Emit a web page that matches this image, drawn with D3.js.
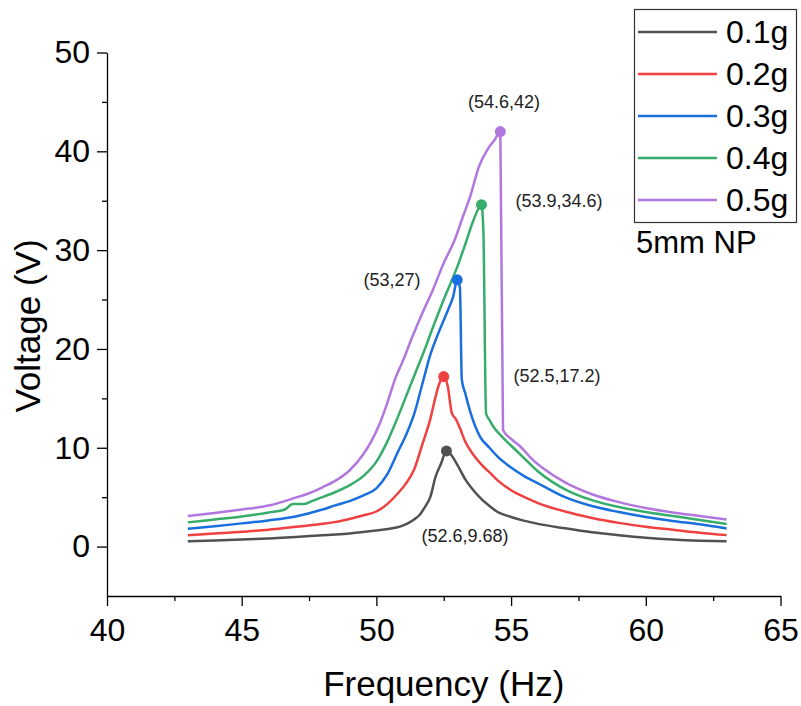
<!DOCTYPE html>
<html>
  <head>
    <script src="https://d3js.org/d3.v7.min.js"></script>
    <style>
      body { margin: 0; background: #fff; }
      text { font-family: "Liberation Sans", Arial, sans-serif; }
    </style>
  </head>
  <body>
    <div id="chart"></div>

    <script type="text/javascript">
      // series names + colours (Origin "bright" palette)
      var seriesNames = ["0.1g", "0.2g", "0.3g", "0.4g", "0.5g"];
      var seriesColors = ["#515151", "#F14040", "#1A6FDF", "#37AD6B", "#B177DE"];

      // frequency (Hz) / voltage (V)
      var freq01 = [43, 44, 45, 46, 47, 48, 48.5, 49, 49.5, 50, 50.5, 50.9, 51.2, 51.4, 51.6, 51.8, 52, 52.2, 52.4, 52.6, 52.8, 53, 53.3, 53.6, 53.9, 54.2, 54.5, 55, 55.5, 56, 57, 58, 59, 60, 61, 62, 63];
      var volt01 = [0.53, 0.62, 0.72, 0.83, 0.98, 1.15, 1.23, 1.33, 1.47, 1.63, 1.8, 2.05, 2.4, 2.75, 3.2, 4.0, 5.0, 7.1, 8.4, 9.68, 9.2, 8.3, 6.8, 5.7, 4.8, 4.1, 3.5, 3.0, 2.6, 2.3, 1.85, 1.45, 1.15, 0.9, 0.72, 0.6, 0.53];

      var freq02 = [43, 44, 45, 46, 47, 48, 48.5, 49, 49.5, 50, 50.4, 50.8, 51.1, 51.4, 51.7, 52, 52.2, 52.35, 52.5, 52.65, 52.8, 52.95, 53.1, 53.3, 53.6, 53.9, 54.2, 54.5, 55, 55.5, 56, 57, 58, 59, 60, 61, 62, 63];
      var volt02 = [1.16, 1.33, 1.5, 1.7, 2.0, 2.3, 2.5, 2.8, 3.15, 3.55, 4.3, 5.4, 6.4, 7.8, 10.3, 12.9, 15.2, 16.6, 17.2, 16.2, 13.5, 12.9, 12.0, 10.6, 9.3, 8.3, 7.5, 6.7, 5.7, 5.0, 4.4, 3.55, 2.9, 2.4, 2.0, 1.7, 1.4, 1.16];

      var freq03 = [43, 44, 45, 46, 47, 48, 48.5, 49, 49.5, 50, 50.4, 50.8, 51.1, 51.4, 51.7, 52, 52.3, 52.65, 52.85, 53, 53.1, 53.17, 53.3, 53.5, 53.85, 54.2, 54.5, 55, 55.5, 56, 57, 58, 59, 60, 61, 62, 63];
      var volt03 = [1.8, 2.05, 2.35, 2.65, 3.05, 3.75, 4.2, 4.6, 5.15, 5.9, 7.3, 9.6, 11.3, 13.4, 16.4, 19.4, 21.6, 23.9, 25.3, 27.0, 26.2, 16.9, 15.5, 13.5, 11.1, 10.0, 9.1, 8.0, 7.1, 6.4, 5.0, 4.1, 3.5, 3.0, 2.6, 2.25, 1.84];

      var freq04 = [43, 44, 45, 46, 46.6, 46.9, 47.3, 47.6, 48, 48.5, 49, 49.5, 50, 50.4, 50.75, 51.1, 51.45, 51.8, 52.1, 52.5, 53, 53.3, 53.6, 53.9, 53.97, 54.07, 54.2, 54.35, 54.6, 54.85, 55.2, 55.5, 56, 56.5, 57, 58, 59, 60, 61, 62, 63];
      var volt04 = [2.45, 2.75, 3.05, 3.45, 3.75, 4.3, 4.3, 4.6, 5.0, 5.55, 6.2, 7.1, 8.6, 10.6, 12.8, 15.2, 17.6, 20.0, 22.2, 25.0, 28.3, 30.6, 33.0, 34.6, 32.0, 13.5, 12.8, 12.1, 11.3, 10.6, 9.7, 8.9, 7.6, 6.6, 5.8, 4.7, 4.0, 3.5, 3.1, 2.7, 2.28];

      var freq05 = [43, 44, 45, 46, 47, 47.5, 48, 48.5, 49, 49.5, 49.8, 50.1, 50.4, 50.7, 51, 51.3, 51.7, 52.1, 52.5, 52.9, 53.2, 53.5, 53.8, 54.15, 54.4, 54.6, 54.7, 55, 55.35, 55.8, 56.2, 57, 58, 59, 60, 61, 62, 63];
      var volt05 = [3.09, 3.4, 3.75, 4.15, 4.95, 5.4, 6.0, 6.7, 7.7, 9.3, 10.6, 12.3, 14.5, 17.0, 18.9, 21.0, 23.6, 26.0, 28.7, 31.0, 33.3, 35.6, 38.4, 40.3, 41.2, 42.0, 11.8, 10.9, 10.1, 8.8, 7.9, 6.5, 5.3, 4.5, 3.9, 3.45, 3.1, 2.75];

      // peak points and their labels
      var peakFreq = [52.6, 52.5, 53, 53.9, 54.6];
      var peakVolt = [9.68, 17.2, 27, 34.6, 42];
      var peakLabels = ["(52.6,9.68)", "(52.5,17.2)", "(53,27)", "(53.9,34.6)", "(54.6,42)"];

      var xTicks = [40, 45, 50, 55, 60, 65];
      var xMinor = [42.5, 47.5, 52.5, 57.5, 62.5];
      var yTicks = [0, 10, 20, 30, 40, 50];
      var yMinor = [5, 15, 25, 35, 45];

      var width = 801,
          height = 706;

      var freqs = [freq01, freq02, freq03, freq04, freq05];
      var volts = [volt01, volt02, volt03, volt04, volt05];
      var series = seriesNames.map(function(name, i) {
        return {
          name: name,
          color: seriesColors[i],
          values: freqs[i].map(function(f, j) { return { f: f, v: volts[i][j] }; })
        };
      });

      var svg = d3.select("#chart").append("svg")
        .attr("width", width)
        .attr("height", height);

      var x = d3.scaleLinear().domain([40, 65]).range([107, 780.5]);
      var y = d3.scaleLinear().domain([-5, 50]).range([596, 52.5]);

      // axes
      svg.append("g")
        .attr("transform", "translate(0," + y(-5) + ")")
        .call(d3.axisBottom(x).tickValues(xTicks).tickFormat(d3.format("d"))
          .tickSize(10).tickSizeOuter(0).tickPadding(12));
      svg.append("g")
        .attr("transform", "translate(0," + y(-5) + ")")
        .call(d3.axisBottom(x).tickValues(xMinor).tickFormat("").tickSize(5).tickSizeOuter(0))
        .select(".domain").remove();

      svg.append("g")
        .attr("transform", "translate(" + x(40) + ",0)")
        .call(d3.axisLeft(y).tickValues(yTicks).tickFormat(d3.format("d"))
          .tickSize(10).tickSizeOuter(0).tickPadding(7));
      svg.append("g")
        .attr("transform", "translate(" + x(40) + ",0)")
        .call(d3.axisLeft(y).tickValues(yMinor).tickFormat("").tickSize(5).tickSizeOuter(0))
        .select(".domain").remove();

      svg.selectAll(".domain, .tick line")
        .attr("stroke", "#000")
        .attr("stroke-width", 1.3);
      svg.selectAll(".tick text")
        .attr("font-size", 32)
        .attr("fill", "#000");

      // axis titles
      svg.append("text")
        .attr("x", (x(40) + x(65)) / 2)
        .attr("y", 696)
        .attr("text-anchor", "middle")
        .attr("font-size", 35)
        .text("Frequency (Hz)");

      svg.append("text")
        .attr("transform", "translate(40," + 326 + ") rotate(-90)")
        .attr("text-anchor", "middle")
        .attr("font-size", 35)
        .text("Voltage (V)");

      // lines
      var line = d3.line()
        .curve(d3.curveMonotoneX)
        .x(function(d) { return x(d.f); })
        .y(function(d) { return y(d.v); });

      svg.selectAll("path.series")
        .data(series)
        .enter().append("path")
          .attr("class", "series")
          .attr("d", function(d) { return line(d.values); })
          .attr("fill", "none")
          .attr("stroke", function(d) { return d.color; })
          .attr("stroke-width", 2.5)
          .attr("stroke-linejoin", "round");

      // peak markers
      svg.selectAll("circle.peak")
        .data(peakFreq)
        .enter().append("circle")
          .attr("class", "peak")
          .attr("cx", function(d) { return x(d); })
          .attr("cy", function(d, i) { return y(peakVolt[i]); })
          .attr("r", 5.5)
          .attr("fill", function(d, i) { return seriesColors[i]; });

      // peak labels (placed as in the original figure)
      var labelPos = [[465, 542], [557, 382], [392, 286], [559, 207], [504, 108]];
      svg.selectAll("text.peaklabel")
        .data(peakLabels)
        .enter().append("text")
          .attr("class", "peaklabel")
          .attr("x", function(d, i) { return labelPos[i][0]; })
          .attr("y", function(d, i) { return labelPos[i][1]; })
          .attr("text-anchor", "middle")
          .attr("font-size", 18)
          .attr("fill", "#222")
          .text(function(d) { return d; });

      // legend
      var legend = svg.append("g");
      legend.append("rect")
        .attr("x", 634.5).attr("y", 9.5)
        .attr("width", 162).attr("height", 213)
        .attr("fill", "#fff")
        .attr("stroke", "#333")
        .attr("stroke-width", 1.2);

      var items = legend.selectAll("g.item")
        .data(series)
        .enter().append("g")
          .attr("class", "item")
          .attr("transform", function(d, i) { return "translate(0," + (32 + i * 42) + ")"; });
      items.append("line")
        .attr("x1", 638).attr("x2", 717)
        .attr("stroke", function(d) { return d.color; })
        .attr("stroke-width", 2.5);
      items.append("text")
        .attr("x", 726)
        .attr("dy", "0.35em")
        .attr("font-size", 32)
        .text(function(d) { return d.name; });

      svg.append("text")
        .attr("x", 636)
        .attr("y", 253)
        .attr("font-size", 31)
        .text("5mm NP");
    </script>
  </body>
</html>
